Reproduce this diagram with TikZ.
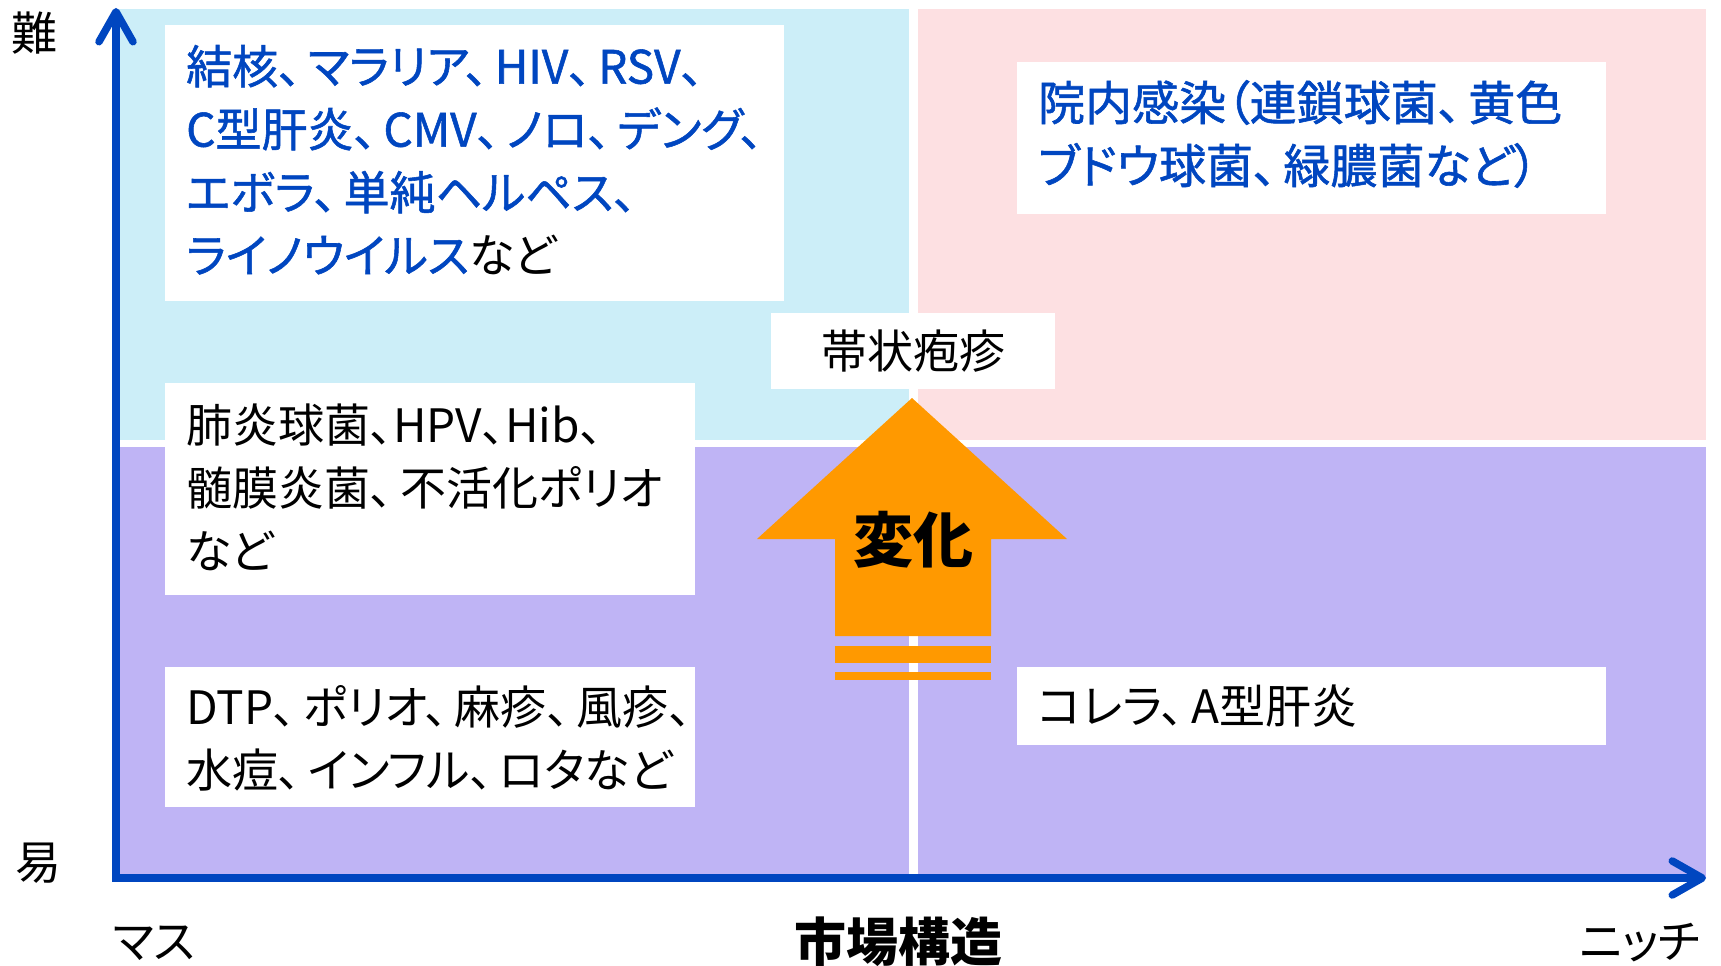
\documentclass[tikz,border=0pt]{standalone}
\usepackage{fontspec}
\setmainfont{Noto Sans CJK JP}[RawFeature=+palt]
\newfontfamily\bluefont{Noto Sans CJK JP}[RawFeature=+palt, FakeBold=1.2]
\usetikzlibrary{arrows.meta}
\definecolor{cyanbg}{RGB}{204,238,248}
\definecolor{pinkbg}{RGB}{253,224,226}
\definecolor{purplebg}{RGB}{191,180,245}
\definecolor{axisblue}{RGB}{0,70,192}
\definecolor{orangearrow}{RGB}{255,153,0}
\newcommand\tten{、\kern0.15em}
\newcommand\bl[1]{{\bluefont\color{axisblue}#1}}
\tikzset{
  whitebox/.style={fill=white, draw=none, inner sep=0pt},
  listtext/.style={anchor=west, inner sep=0pt, align=left, font=\fontsize{46}{63}\selectfont},
  axislabel/.style={inner sep=0pt, font=\fontsize{46}{50}\selectfont},
  axisline/.style={draw=axisblue, line width=7.5pt, {Straight Barb[length=30pt,width=34pt,round]}-{Straight Barb[length=30pt,width=34pt,round]}},
}
\begin{document}
\begin{tikzpicture}[x=1pt,y=-1pt]
\useasboundingbox (0,0) rectangle (1721,966);
% quadrants
\fill[cyanbg] (118,9) rectangle (909,440);
\fill[pinkbg] (918,9) rectangle (1706,440);
\fill[purplebg] (118,447) rectangle (909,878);
\fill[purplebg] (918,447) rectangle (1706,878);
% boxes
\node[whitebox, minimum width=619pt, minimum height=276pt] (b1) at (474.5,163) {};
\node[whitebox, minimum width=589pt, minimum height=152pt] (b2) at (1311.5,138) {};
\node[whitebox, minimum width=284pt, minimum height=76pt] (b3) at (913,351) {};
\node[whitebox, minimum width=530pt, minimum height=212pt] (b4) at (430,489) {};
\node[whitebox, minimum width=530pt, minimum height=140pt] (b5) at (430,737) {};
\node[whitebox, minimum width=589pt, minimum height=78pt] (b6) at (1311.5,706) {};
% texts
\node[listtext] (t1) at (186,160) {\bl{結核\tten マラリア\tten HIV\tten RSV、}\\\bl{C型肝炎\tten CMV\tten ノロ\tten デング、}\\\bl{エボラ\tten 単純ヘルペス、}\\\bl{ライノウイルス}など};
\node[listtext, font=\fontsize{47}{63}\selectfont] (t2) at (1038,134) {\bl{院内感染（連鎖球菌\tten 黄色}\\\bl{ブドウ球菌\tten 緑膿菌など）}};
\node[inner sep=0pt, font=\fontsize{46}{50}\selectfont] (t3) at (b3.center) {帯状疱疹};
\node[listtext] (t4) at (186,487) {肺炎球菌、HPV、Hib、\\髄膜炎菌\tten 不活化ポリオ\\など};
\node[listtext] (t5) at (186,738) {DTP\tten ポリオ\tten 麻疹\tten 風疹、\\水痘\tten インフル\tten ロタなど};
\node[listtext] (t6) at (1038,706) {コレラ\tten A型肝炎};
% orange arrow
\fill[orangearrow] (912,398) -- (1067,539) -- (991,539) -- (991,636) -- (835,636) -- (835,539) -- (757,539) -- cycle;
\fill[orangearrow] (835,646) rectangle (991,663);
\fill[orangearrow] (835,672) rectangle (991,680);
\node[inner sep=0pt, font=\fontsize{60}{60}\selectfont\bfseries] (chg) at (913,540) {変化};
% axes
\coordinate (o) at (116,878);
\coordinate (ytip) at (116,8);
\coordinate (xtip) at (1706,878);
\draw[axisline] (ytip) -- (o) -- (xtip);
% axis labels
\node[axislabel] (hard) at (35,33) {難};
\node[axislabel] (easy) at (38,863) {易};
\node[axislabel] (mass) at (154,943) {マス};
\node[axislabel] (niche) at (1640,943) {ニッチ};
\node[inner sep=0pt, font=\fontsize{52}{56}\selectfont\bfseries] (market) at (898,942) {市場構造};
\end{tikzpicture}
\end{document}
